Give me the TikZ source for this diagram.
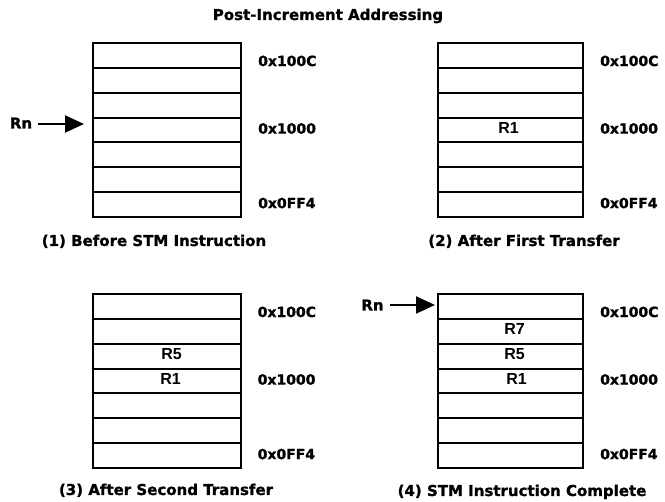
\documentclass[tikz,border=0pt]{standalone}
\usepackage{fontspec}
\setmainfont{DejaVu Sans}[BoldFeatures={FakeBold=1.2}]
\newfontfamily\regfont{Liberation Sans}
\usetikzlibrary{arrows.meta}
\tikzset{
  cell/.style={draw, line width=2pt, minimum height=24.857pt, inner sep=0pt, outer sep=0pt},
  titletext/.style={font=\bfseries\fontsize{15}{18}\selectfont, inner sep=0pt},
  captext/.style={font=\bfseries\fontsize{15}{18}\selectfont, inner sep=0pt},
  addr/.style={font=\bfseries\fontsize{14}{17}\selectfont, inner sep=0pt},
  regtext/.style={font=\regfont\bfseries\fontsize{16}{19}\selectfont, inner sep=0pt},
  rntext/.style={font=\bfseries\fontsize{15}{18}\selectfont, inner sep=1pt},
  ptr/.style={line width=2pt, -{Triangle[length=19pt,width=17pt]}, shorten <=5pt}
}
\newcommand{\mempanel}[4]{%
  \foreach \i in {1,...,7}{%
    \node[cell, minimum width=#4pt, anchor=north west] (#1r\i) at ({#2},{#3+(\i-1)*24.857}) {};
  }%
}
\begin{document}
\begin{tikzpicture}[x=1pt, y=-1pt]
\useasboundingbox (0,0) rectangle (665,502);
\node[titletext, anchor=base] (title) at (328,20) {Post-Increment Addressing};

\mempanel{p1}{92.5}{43}{148.5}
\mempanel{p2}{438}{43}{145}
\mempanel{p3}{92.5}{294}{148}
\mempanel{p4}{438}{294}{145}

\foreach \p in {p1,p2,p3,p4}{%
  \node[addr, anchor=west] (\p a1) at ([xshift=17pt,yshift=-5.5pt]\p r1.east) {0x100C};
  \node[addr, anchor=west] (\p a4) at ([xshift=17pt,yshift=1.5pt]\p r4.east) {0x1000};
  \node[addr, anchor=west] (\p a7) at ([xshift=17pt,yshift=1.5pt]\p r7.east) {0x0FF4};
}

\node[regtext] (p2v4) at ([xshift=-2pt,yshift=2pt]p2r4.center) {R1};
\node[regtext] (p3v3) at ([xshift=5pt,yshift=2pt]p3r3.center) {R5};
\node[regtext] (p3v4) at ([xshift=4pt,yshift=2pt]p3r4.center) {R1};
\node[regtext] (p4v2) at ([xshift=4pt,yshift=2pt]p4r2.center) {R7};
\node[regtext] (p4v3) at ([xshift=4pt,yshift=2pt]p4r3.center) {R5};
\node[regtext] (p4v4) at ([xshift=6pt,yshift=2pt]p4r4.center) {R1};

\node[captext, anchor=base] (cap1) at (154,246) {(1) Before STM Instruction};
\node[captext, anchor=base] (cap2) at (524,246) {(2) After First Transfer};
\node[captext, anchor=base] (cap3) at (166,495) {(3) After Second Transfer};
\node[captext, anchor=base] (cap4) at (522,496) {(4) STM Instruction Complete};

\node[rntext] (rn1) at (21,123) {Rn};
\coordinate (t1) at (84,124);
\draw[ptr] (rn1.east |- t1) -- (t1);

\node[rntext] (rn4) at (372.5,305) {Rn};
\coordinate (t4) at (435,305);
\draw[ptr] (rn4.east |- t4) -- (t4);
\end{tikzpicture}
\end{document}
